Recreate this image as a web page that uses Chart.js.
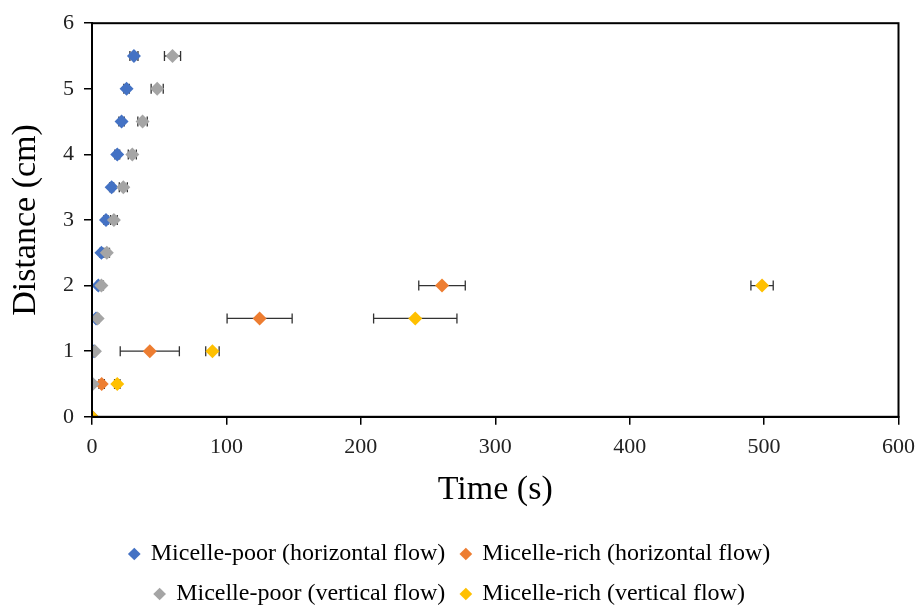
<!DOCTYPE html>
<html>
<head>
<meta charset="utf-8">
<script src="https://cdn.jsdelivr.net/npm/chart.js@4.4.0/dist/chart.umd.min.js"></script>
<style>
  body { margin: 0; background: #fff; }
  #wrap { width: 924px; height: 610px; }
</style>
</head>
<body>
<div id="wrap"><canvas id="graph" width="924" height="610"></canvas></div>
<script>
// distances (cm)
var distance = [0, 0.5, 1, 1.5, 2, 2.5, 3, 3.5, 4, 4.5, 5, 5.5];
var richDistance = [0, 0.5, 1, 1.5, 2];

// times (s) and +/- error
var poorHorizTime = [0, 0.3, 1.5, 3, 4.7, 7, 10.4, 14.6, 18.8, 22, 25.7, 31.2];
var poorHorizErr  = [0, 0.3, 0.5, 0.8, 1, 1.2, 1.5, 1.5, 1.8, 2, 2, 3];
var poorVertTime  = [0, 0.5, 2.2, 4.2, 7, 11, 16.3, 23.3, 30, 37.6, 48.5, 59.9];
var poorVertErr   = [0, 0.3, 0.5, 1, 1.5, 2, 2.5, 3, 3, 3.5, 4.5, 6];
var richHorizTime = [0, 7.2, 43, 124.7, 260.4];
var richHorizErr  = [0, 2, 22, 24.2, 17.3];
var richVertTime  = [0, 18.8, 89.6, 240.5, 498.5];
var richVertErr   = [0, 2, 5, 31, 8.3];

var seriesNames = ['Micelle-poor (horizontal flow)', 'Micelle-rich (horizontal flow)',
                   'Micelle-poor (vertical flow)', 'Micelle-rich (vertical flow)'];
var couleurs = ['#4472C4', '#ED7D31', '#A5A5A5', '#FFC000'];

function points(xs, ys) {
  return xs.map(function(x, i) { return { x: x, y: ys[i] }; });
}

var police = "'Liberation Serif', 'Times New Roman', serif";

// horizontal error bars, drawn before the markers
var barresErreur = {
  id: 'barresErreur',
  beforeDatasetsDraw: function(chart) {
    var ctx = chart.ctx, sx = chart.scales.x, sy = chart.scales.y;
    ctx.save();
    ctx.strokeStyle = '#333';
    ctx.lineWidth = 1.3;
    chart.data.datasets.forEach(function(ds) {
      if (!ds.erreurs) return;
      ds.data.forEach(function(p, i) {
        var e = ds.erreurs[i];
        if (!e) return;
        var x1 = sx.getPixelForValue(p.x - e), x2 = sx.getPixelForValue(p.x + e);
        var y = sy.getPixelForValue(p.y);
        ctx.beginPath();
        ctx.moveTo(x1, y); ctx.lineTo(x2, y);
        ctx.moveTo(x1, y - 5); ctx.lineTo(x1, y + 5);
        ctx.moveTo(x2, y - 5); ctx.lineTo(x2, y + 5);
        ctx.stroke();
      });
    });
    ctx.restore();
  },
  afterDraw: function(chart) {
    var a = chart.chartArea, ctx = chart.ctx;
    ctx.save();
    ctx.strokeStyle = '#000';
    ctx.lineWidth = 2;
    ctx.strokeRect(a.left, a.top, a.right - a.left, a.bottom - a.top);
    ctx.restore();
  }
};

function serie(n, data, err, ordre) {
  return {
    label: seriesNames[n],
    data: data,
    erreurs: err,
    order: ordre,
    backgroundColor: couleurs[n],
    borderColor: couleurs[n],
    pointStyle: 'rectRot',
    pointRadius: 7,
    pointHoverRadius: 7,
    borderWidth: 0
  };
}

var ctx = document.getElementById('graph').getContext('2d');
var graphique = new Chart(ctx, {
  type: 'scatter',
  data: {
    datasets: [
      serie(0, points(poorHorizTime, distance), poorHorizErr, 3),
      serie(1, points(richHorizTime, richDistance), richHorizErr, 2),
      serie(2, points(poorVertTime, distance), poorVertErr, 1),
      serie(3, points(richVertTime, richDistance), richVertErr, 0)
    ]
  },
  options: {
    responsive: false,
    animation: false,
    layout: { padding: { top: 18, right: 24, left: 0, bottom: -6 } },
    plugins: {
      tooltip: { enabled: false },
      legend: {
        position: 'bottom',
        labels: {
          usePointStyle: true,
          pointStyle: 'rectRot',
          boxWidth: 9,
          boxHeight: 9,
          padding: 16,
          color: '#000',
          font: { family: police, size: 24 },
          sort: function(a, b) { return a.datasetIndex - b.datasetIndex; }
        }
      }
    },
    scales: {
      x: {
        min: 0, max: 600,
        ticks: { stepSize: 100, color: '#222', font: { family: police, size: 22 }, padding: 9 },
        grid: { display: true, drawOnChartArea: false, drawTicks: true, tickLength: 8, color: '#000', lineWidth: 1.5 },
        border: { display: true, color: '#000', width: 2 },
        title: { display: true, text: 'Time (s)', color: '#000', font: { family: police, size: 34 }, padding: { top: 0, bottom: 16 } }
      },
      y: {
        min: 0, max: 6,
        ticks: { stepSize: 1, color: '#222', font: { family: police, size: 22 }, padding: 10 },
        grid: { display: true, drawOnChartArea: false, drawTicks: true, tickLength: 8, color: '#000', lineWidth: 1.5 },
        border: { display: true, color: '#000', width: 2 },
        title: { display: true, text: 'Distance (cm)', color: '#000', font: { family: police, size: 34 }, padding: { top: 6, bottom: 2 } },
        afterFit: function(scale) { scale.width = 92; }
      }
    }
  },
  plugins: [barresErreur]
});
</script>
</body>
</html>
